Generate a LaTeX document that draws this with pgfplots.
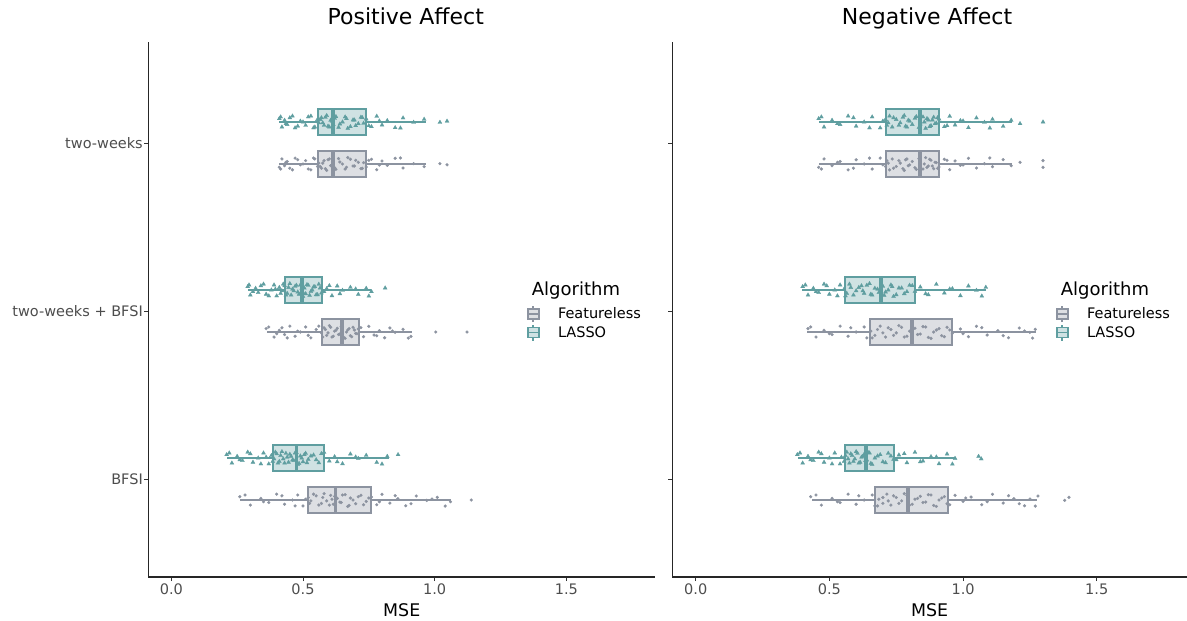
\documentclass[border=0pt]{standalone}
\usepackage{fontspec}
\setmainfont{DejaVu Sans}
\usepackage{pgfplots}
\pgfplotsset{compat=1.18}
\usepgfplotslibrary{statistics}
\definecolor{lassoline}{RGB}{95,158,160}
\definecolor{lassofill}{RGB}{207,226,227}
\definecolor{featline}{RGB}{140,147,160}
\definecolor{featfill}{RGB}{221,223,227}
\definecolor{ticklab}{RGB}{77,77,77}

\pgfplotsset{
  panel/.style={
    scale only axis, height=535bp,
    xmin=-0.0875, xmax=1.8375, ymin=0.417, ymax=3.601,
    enlargelimits=false,
    axis x line*=bottom, axis y line*=left,
    axis line style={line width=1.1bp, black!85, -},
    xtick={0,0.5,1,1.5}, ytick={1,2,3},
    tick align=outside, major tick length=4bp,
    tick style={line width=0.9bp, black!80},
    /pgf/number format/assume math mode=true,
    tick label style={font=\fontsize{14.5bp}{17bp}\selectfont, text=ticklab},
    xticklabel style={anchor=north, inner sep=0pt, yshift=-3bp,
      /pgf/number format/.cd, fixed, fixed zerofill, precision=1},
    yticklabel style={anchor=east, inner sep=0pt, xshift=-1.3bp},
    xlabel={MSE},
    xlabel style={at={(axis description cs:0.5,0)}, anchor=base, yshift=-39.7bp,
      font=\fontsize{17.4bp}{20bp}\selectfont},
    title style={at={(0.5,1)}, anchor=base, yshift=12bp,
      font=\fontsize{22bp}{26bp}\selectfont},
    boxplot/every median/.style={line width=3.6bp},
    legend style={draw=none, fill=none, inner sep=0pt, nodes={inner sep=0pt},
      font=\fontsize{14.5bp}{17bp}\selectfont, cells={anchor=west},
      anchor=north west, row sep=0pt},
    legend cell align=left,
  },
  lbox/.style={draw=lassoline, fill=lassofill, line width=2bp, solid},
  fbox/.style={draw=featline, fill=featfill, line width=2bp, solid},
  lpts/.style={only marks, mark=triangle*, mark size=2.3bp, lassoline,
    mark options={line width=0.3bp, draw=lassoline, fill=lassoline}},
  fpts/.style={only marks, mark=*, mark size=1.45bp, featline,
    mark options={line width=0.3bp, draw=featline, fill=featline}},
  featicon/.style={legend image code/.code={
    \draw[draw=featline, line width=1.6bp] (5.5bp,-8bp)--(5.5bp,8bp);
    \draw[draw=featline, fill=featfill, line width=1.6bp] (0bp,-5bp) rectangle (11bp,5bp);
    \draw[draw=featline, line width=1.6bp] (0bp,0bp)--(11bp,0bp);
    \path[draw=none, fill=none] (0bp,-9.2bp) rectangle (30.3bp,9.2bp);}},
  lassoicon/.style={legend image code/.code={
    \draw[draw=lassoline, line width=1.6bp] (5.5bp,-8bp)--(5.5bp,8bp);
    \draw[draw=lassoline, fill=lassofill, line width=1.6bp] (0bp,-5bp) rectangle (11bp,5bp);
    \draw[draw=lassoline, line width=1.6bp] (0bp,0bp)--(11bp,0bp);
    \path[draw=none, fill=none] (0bp,-9.2bp) rectangle (30.3bp,9.2bp);}},
}

\begin{document}
\begin{tikzpicture}
\useasboundingbox (0,0) rectangle (1187bp,621bp);

% ---------------- Positive Affect ----------------
\begin{axis}[panel, at={(148.3bp,44bp)}, anchor=south west, width=506.9bp,
  title={Positive Affect}, title style={xshift=4bp},
  yticklabels={BFSI, two-weeks + BFSI, two-weeks},
  legend style={at={(axis description cs:0.7465,0.5088)}}]
\addlegendimage{featicon}\addlegendentry{Featureless}
\addlegendimage{lassoicon}\addlegendentry{LASSO}

% two-weeks
\addplot[lbox, boxplot prepared={lower whisker=0.409, lower quartile=0.557, median=0.614,
  upper quartile=0.739, upper whisker=0.967, draw position=3.125, box extend=0.155, whisker extend=0}] coordinates {};
\addplot[fbox, boxplot prepared={lower whisker=0.409, lower quartile=0.557, median=0.614,
  upper quartile=0.739, upper whisker=0.967, draw position=2.875, box extend=0.155, whisker extend=0}] coordinates {};
% two-weeks + BFSI
\addplot[lbox, boxplot prepared={lower whisker=0.291, lower quartile=0.431, median=0.496,
  upper quartile=0.572, upper whisker=0.759, draw position=2.125, box extend=0.155, whisker extend=0}] coordinates {};
\addplot[fbox, boxplot prepared={lower whisker=0.362, lower quartile=0.571, median=0.648,
  upper quartile=0.713, upper whisker=0.913, draw position=1.875, box extend=0.155, whisker extend=0}] coordinates {};
% BFSI
\addplot[lbox, boxplot prepared={lower whisker=0.213, lower quartile=0.387, median=0.475,
  upper quartile=0.580, upper whisker=0.827, draw position=1.125, box extend=0.155, whisker extend=0}] coordinates {};
\addplot[fbox, boxplot prepared={lower whisker=0.260, lower quartile=0.520, median=0.624,
  upper quartile=0.760, upper whisker=1.061, draw position=0.875, box extend=0.155, whisker extend=0}] coordinates {};

% jittered points: two-weeks
\addplot[lpts] table[row sep=\\, x=x, y expr=3.125+\thisrow{j}] {
x j\\ 0.41 0.02\\ 0.42 -0.03\\ 0.43 0.01\\ 0.44 -0.015\\ 0.46 0.035\\ 0.48 -0.025\\
0.50 0.0\\ 0.52 0.03\\ 0.54 -0.035\\ 0.555 0.015\\ 0.56 -0.005\\ 0.57 0.025\\ 0.58 -0.02\\
0.59 0.038\\ 0.60 -0.03\\ 0.61 0.005\\ 0.62 0.022\\ 0.64 -0.012\\ 0.66 0.03\\ 0.67 -0.038\\
0.69 0.012\\ 0.70 -0.022\\ 0.72 0.028\\ 0.73 -0.008\\ 0.74 0.018\\ 0.76 -0.028\\ 0.78 0.034\\
0.80 -0.018\\ 0.82 0.008\\ 0.85 -0.034\\ 0.88 0.024\\ 0.92 -0.002\\ 0.96 0.016\\ 1.02 -0.002\\
1.047 0.005\\
0.415 0.03\\ 0.435 -0.01\\ 0.45 0.025\\ 0.47 -0.035\\ 0.49 0.005\\ 0.51 -0.02\\ 0.53 0.035\\
0.545 -0.03\\ 0.565 0.015\\ 0.575 -0.005\\ 0.585 0.028\\ 0.595 -0.025\\ 0.605 0.01\\ 0.615 -0.015\\
0.625 0.032\\ 0.635 -0.032\\ 0.65 0.0\\ 0.665 0.02\\ 0.68 -0.028\\ 0.695 0.012\\ 0.71 -0.01\\
0.725 0.026\\ 0.75 -0.022\\ 0.79 0.006\\ 0.87 -0.036\\
};
\addplot[fpts] table[row sep=\\, x=x, y expr=2.875+\thisrow{j}] {
x j\\ 0.41 -0.02\\ 0.42 0.03\\ 0.43 -0.01\\ 0.44 0.015\\ 0.46 -0.035\\ 0.48 0.025\\
0.50 0.0\\ 0.52 -0.03\\ 0.54 0.035\\ 0.555 -0.015\\ 0.56 0.005\\ 0.57 -0.025\\ 0.58 0.02\\
0.59 -0.038\\ 0.60 0.03\\ 0.61 -0.005\\ 0.62 -0.022\\ 0.64 0.012\\ 0.66 -0.03\\ 0.67 0.038\\
0.69 -0.012\\ 0.70 0.022\\ 0.72 -0.028\\ 0.73 0.008\\ 0.74 -0.018\\ 0.76 0.028\\ 0.78 -0.034\\
0.80 0.018\\ 0.82 -0.008\\ 0.85 0.034\\ 0.88 -0.024\\ 0.92 0.002\\ 0.96 -0.016\\ 1.02 0.002\\
1.047 -0.005\\
0.415 -0.03\\ 0.435 0.01\\ 0.45 -0.025\\ 0.47 0.035\\ 0.49 -0.005\\ 0.51 0.02\\ 0.53 -0.035\\
0.545 0.03\\ 0.565 -0.015\\ 0.575 0.005\\ 0.585 -0.028\\ 0.595 0.025\\ 0.605 -0.01\\ 0.615 0.015\\
0.625 -0.032\\ 0.635 0.032\\ 0.65 0.0\\ 0.665 -0.02\\ 0.68 0.028\\ 0.695 -0.012\\ 0.71 0.01\\
0.725 -0.026\\ 0.75 0.022\\ 0.79 -0.006\\ 0.87 0.036\\
};
% two-weeks + BFSI
\addplot[lpts] table[row sep=\\, x=x, y expr=2.125+\thisrow{j}] {
x j\\ 0.29 0.02\\ 0.30 -0.03\\ 0.32 0.01\\ 0.33 -0.015\\ 0.35 0.035\\ 0.36 -0.025\\ 0.38 0.0\\
0.39 0.03\\ 0.40 -0.035\\ 0.41 0.015\\ 0.42 -0.005\\ 0.43 0.025\\ 0.44 -0.02\\ 0.45 0.038\\
0.455 -0.03\\ 0.46 0.005\\ 0.47 0.022\\ 0.48 -0.012\\ 0.49 0.03\\ 0.50 -0.038\\ 0.505 0.012\\
0.51 -0.022\\ 0.52 0.028\\ 0.53 -0.008\\ 0.54 0.018\\ 0.55 -0.028\\ 0.56 0.034\\ 0.57 -0.018\\
0.59 0.008\\ 0.61 -0.034\\ 0.63 0.024\\ 0.65 -0.002\\ 0.68 0.016\\ 0.71 -0.026\\ 0.74 0.01\\
0.76 -0.01\\ 0.812 0.012\\
0.295 0.03\\ 0.31 -0.01\\ 0.34 0.025\\ 0.37 -0.035\\ 0.395 0.005\\ 0.415 -0.02\\ 0.425 0.035\\
0.435 -0.03\\ 0.445 0.015\\ 0.465 -0.005\\ 0.475 0.028\\ 0.485 -0.025\\ 0.495 0.01\\ 0.50 -0.015\\
0.515 0.032\\ 0.525 -0.032\\ 0.535 0.0\\ 0.545 0.02\\ 0.555 -0.028\\ 0.565 0.012\\ 0.58 -0.01\\
0.60 0.026\\ 0.64 -0.022\\ 0.70 0.006\\ 0.75 -0.036\\
};
\addplot[fpts] table[row sep=\\, x=x, y expr=1.875+\thisrow{j}] {
x j\\ 0.36 0.02\\ 0.39 -0.03\\ 0.41 0.01\\ 0.43 -0.015\\ 0.45 0.035\\ 0.47 -0.025\\ 0.49 0.0\\
0.51 0.03\\ 0.53 -0.035\\ 0.55 0.015\\ 0.57 -0.005\\ 0.58 0.025\\ 0.59 -0.02\\ 0.60 0.038\\
0.61 -0.03\\ 0.62 0.005\\ 0.63 0.022\\ 0.64 -0.012\\ 0.65 0.03\\ 0.66 -0.038\\ 0.67 0.012\\
0.68 -0.022\\ 0.69 0.028\\ 0.70 -0.008\\ 0.71 0.018\\ 0.73 -0.028\\ 0.75 0.034\\ 0.77 -0.018\\
0.79 0.008\\ 0.81 -0.034\\ 0.83 0.024\\ 0.85 -0.002\\ 0.88 0.016\\ 0.91 -0.026\\ 1.004 0.0\\
1.123 0.0\\
0.37 0.03\\ 0.40 -0.01\\ 0.42 0.025\\ 0.44 -0.035\\ 0.48 0.005\\ 0.52 -0.02\\ 0.56 0.035\\
0.575 -0.03\\ 0.585 0.015\\ 0.595 -0.005\\ 0.605 0.028\\ 0.615 -0.025\\ 0.625 0.01\\ 0.635 -0.015\\
0.645 0.032\\ 0.655 -0.032\\ 0.665 0.0\\ 0.675 0.02\\ 0.685 -0.028\\ 0.695 0.012\\ 0.705 -0.01\\
0.72 0.026\\ 0.78 -0.022\\ 0.84 0.006\\ 0.90 -0.036\\
};
% BFSI
\addplot[lpts] table[row sep=\\, x=x, y expr=1.125+\thisrow{j}] {
x j\\ 0.21 0.02\\ 0.23 -0.03\\ 0.25 0.01\\ 0.27 -0.015\\ 0.29 0.035\\ 0.31 -0.025\\ 0.33 0.0\\
0.35 0.03\\ 0.37 -0.035\\ 0.38 0.015\\ 0.39 -0.005\\ 0.40 0.025\\ 0.41 -0.02\\ 0.42 0.038\\
0.43 -0.03\\ 0.44 0.005\\ 0.45 0.022\\ 0.46 -0.012\\ 0.47 0.03\\ 0.48 -0.038\\ 0.49 0.012\\
0.50 -0.022\\ 0.51 0.028\\ 0.52 -0.008\\ 0.54 0.018\\ 0.56 -0.028\\ 0.58 0.034\\ 0.60 -0.018\\
0.62 0.008\\ 0.65 -0.034\\ 0.68 0.024\\ 0.71 -0.002\\ 0.74 0.016\\ 0.78 -0.026\\ 0.82 0.01\\
0.861 0.02\\
0.22 0.03\\ 0.26 -0.01\\ 0.30 0.025\\ 0.34 -0.035\\ 0.36 0.005\\ 0.385 -0.02\\ 0.395 0.035\\
0.405 -0.03\\ 0.415 0.015\\ 0.425 -0.005\\ 0.435 0.028\\ 0.445 -0.025\\ 0.455 0.01\\ 0.465 -0.015\\
0.475 0.032\\ 0.485 -0.032\\ 0.495 0.0\\ 0.505 0.02\\ 0.515 -0.028\\ 0.53 0.012\\ 0.55 -0.01\\
0.57 0.026\\ 0.63 -0.022\\ 0.70 0.006\\ 0.80 -0.036\\
};
\addplot[fpts] table[row sep=\\, x=x, y expr=0.875+\thisrow{j}] {
x j\\ 0.26 0.02\\ 0.30 -0.03\\ 0.34 0.01\\ 0.37 -0.015\\ 0.40 0.035\\ 0.43 -0.025\\ 0.46 0.0\\
0.48 0.03\\ 0.50 -0.035\\ 0.52 0.015\\ 0.53 -0.005\\ 0.55 0.025\\ 0.57 -0.02\\ 0.58 0.038\\
0.60 -0.03\\ 0.61 0.005\\ 0.62 0.022\\ 0.64 -0.012\\ 0.65 0.03\\ 0.67 -0.038\\ 0.68 0.012\\
0.70 -0.022\\ 0.72 0.028\\ 0.74 -0.008\\ 0.76 0.018\\ 0.78 -0.028\\ 0.80 0.034\\ 0.83 -0.018\\
0.86 0.008\\ 0.89 -0.034\\ 0.93 0.024\\ 0.97 -0.002\\ 1.01 0.016\\ 1.06 -0.01\\ 1.139 0.0\\
0.28 0.03\\ 0.35 -0.01\\ 0.42 0.025\\ 0.47 -0.035\\ 0.51 0.005\\ 0.525 -0.02\\ 0.54 0.035\\
0.56 -0.03\\ 0.575 0.015\\ 0.59 -0.005\\ 0.605 0.028\\ 0.615 -0.025\\ 0.63 0.01\\ 0.645 -0.015\\
0.66 0.032\\ 0.675 -0.032\\ 0.69 0.0\\ 0.71 0.02\\ 0.73 -0.028\\ 0.75 0.012\\ 0.79 -0.01\\
0.85 0.026\\ 0.91 -0.022\\ 0.99 0.006\\ 1.04 -0.036\\
};
\node[anchor=base west, inner sep=0pt, font=\fontsize{18bp}{21bp}\selectfont]
  at (axis description cs:0.7564,0.527) {Algorithm};
\end{axis}

% ---------------- Negative Affect ----------------
\begin{axis}[panel, at={(672.3bp,44bp)}, anchor=south west, width=514.7bp,
  title={Negative Affect}, title style={xshift=-2.6bp},
  yticklabels={,,},
  legend style={at={(axis description cs:0.745,0.5088)}}]
\addlegendimage{featicon}\addlegendentry{Featureless}
\addlegendimage{lassoicon}\addlegendentry{LASSO}

% two-weeks
\addplot[lbox, boxplot prepared={lower whisker=0.461, lower quartile=0.713, median=0.838,
  upper quartile=0.909, upper whisker=1.184, draw position=3.125, box extend=0.155, whisker extend=0}] coordinates {};
\addplot[fbox, boxplot prepared={lower whisker=0.461, lower quartile=0.713, median=0.838,
  upper quartile=0.909, upper whisker=1.184, draw position=2.875, box extend=0.155, whisker extend=0}] coordinates {};
% two-weeks + BFSI
\addplot[lbox, boxplot prepared={lower whisker=0.399, lower quartile=0.557, median=0.692,
  upper quartile=0.819, upper whisker=1.085, draw position=2.125, box extend=0.155, whisker extend=0}] coordinates {};
\addplot[fbox, boxplot prepared={lower whisker=0.415, lower quartile=0.651, median=0.808,
  upper quartile=0.960, upper whisker=1.271, draw position=1.875, box extend=0.155, whisker extend=0}] coordinates {};
% BFSI
\addplot[lbox, boxplot prepared={lower whisker=0.383, lower quartile=0.557, median=0.636,
  upper quartile=0.742, upper whisker=0.975, draw position=1.125, box extend=0.155, whisker extend=0}] coordinates {};
\addplot[fbox, boxplot prepared={lower whisker=0.434, lower quartile=0.669, median=0.794,
  upper quartile=0.944, upper whisker=1.278, draw position=0.875, box extend=0.155, whisker extend=0}] coordinates {};

% two-weeks
\addplot[lpts] table[row sep=\\, x=x, y expr=3.125+\thisrow{j}] {
x j\\ 0.46 0.02\\ 0.48 -0.03\\ 0.51 0.01\\ 0.54 -0.015\\ 0.57 0.035\\ 0.60 -0.025\\ 0.63 0.0\\
0.66 0.03\\ 0.69 -0.035\\ 0.71 0.015\\ 0.72 -0.005\\ 0.74 0.025\\ 0.76 -0.02\\ 0.78 0.038\\
0.79 -0.03\\ 0.80 0.005\\ 0.82 0.022\\ 0.84 -0.012\\ 0.85 0.03\\ 0.86 -0.038\\ 0.87 0.012\\
0.88 -0.022\\ 0.89 0.028\\ 0.90 -0.008\\ 0.91 0.018\\ 0.93 -0.028\\ 0.95 0.034\\ 0.97 -0.018\\
0.99 0.008\\ 1.02 -0.034\\ 1.05 0.024\\ 1.08 -0.002\\ 1.11 0.016\\ 1.15 -0.026\\ 1.18 0.01\\
1.213 -0.01\\ 1.299 0.0\\
0.47 0.03\\ 0.53 -0.01\\ 0.59 0.025\\ 0.65 -0.035\\ 0.70 0.005\\ 0.715 -0.02\\ 0.725 0.035\\
0.735 -0.03\\ 0.75 0.015\\ 0.765 -0.005\\ 0.775 0.028\\ 0.785 -0.025\\ 0.795 0.01\\ 0.81 -0.015\\
0.825 0.032\\ 0.835 -0.032\\ 0.855 0.0\\ 0.865 0.02\\ 0.875 -0.028\\ 0.885 0.012\\ 0.895 -0.01\\
0.905 0.026\\ 0.94 -0.022\\ 1.00 0.006\\ 1.10 -0.036\\
};
\addplot[fpts] table[row sep=\\, x=x, y expr=2.875+\thisrow{j}] {
x j\\ 0.46 -0.02\\ 0.48 0.03\\ 0.51 -0.01\\ 0.54 0.015\\ 0.57 -0.035\\ 0.60 0.025\\ 0.63 0.0\\
0.66 -0.03\\ 0.69 0.035\\ 0.71 -0.015\\ 0.72 0.005\\ 0.74 -0.025\\ 0.76 0.02\\ 0.78 -0.038\\
0.79 0.03\\ 0.80 -0.005\\ 0.82 -0.022\\ 0.84 0.012\\ 0.85 -0.03\\ 0.86 0.038\\ 0.87 -0.012\\
0.88 0.022\\ 0.89 -0.028\\ 0.90 0.008\\ 0.91 -0.018\\ 0.93 0.028\\ 0.95 -0.034\\ 0.97 0.018\\
0.99 -0.008\\ 1.02 0.034\\ 1.05 -0.024\\ 1.08 0.002\\ 1.11 -0.016\\ 1.15 0.026\\ 1.18 -0.01\\
1.213 0.01\\ 1.299 -0.02\\ 1.299 0.02\\
0.47 -0.03\\ 0.53 0.01\\ 0.59 -0.025\\ 0.65 0.035\\ 0.70 -0.005\\ 0.715 0.02\\ 0.725 -0.035\\
0.735 0.03\\ 0.75 -0.015\\ 0.765 0.005\\ 0.775 -0.028\\ 0.785 0.025\\ 0.795 -0.01\\ 0.81 0.015\\
0.825 -0.032\\ 0.835 0.032\\ 0.855 0.0\\ 0.865 -0.02\\ 0.875 0.028\\ 0.885 -0.012\\ 0.895 0.01\\
0.905 -0.026\\ 0.94 0.022\\ 1.00 -0.006\\ 1.10 0.036\\
};
% two-weeks + BFSI
\addplot[lpts] table[row sep=\\, x=x, y expr=2.125+\thisrow{j}] {
x j\\ 0.40 0.02\\ 0.42 -0.03\\ 0.44 0.01\\ 0.46 -0.015\\ 0.48 0.035\\ 0.50 -0.025\\ 0.52 0.0\\
0.54 0.03\\ 0.56 -0.035\\ 0.58 0.015\\ 0.60 -0.005\\ 0.62 0.025\\ 0.63 -0.02\\ 0.65 0.038\\
0.66 -0.03\\ 0.68 0.005\\ 0.70 0.022\\ 0.71 -0.012\\ 0.73 0.03\\ 0.74 -0.038\\ 0.76 0.012\\
0.78 -0.022\\ 0.80 0.028\\ 0.82 -0.008\\ 0.84 0.018\\ 0.87 -0.028\\ 0.90 0.034\\ 0.93 -0.018\\
0.96 0.008\\ 0.99 -0.034\\ 1.02 0.024\\ 1.05 -0.002\\ 1.085 0.016\\
0.41 0.03\\ 0.45 -0.01\\ 0.49 0.025\\ 0.53 -0.035\\ 0.555 0.005\\ 0.565 -0.02\\ 0.575 0.035\\
0.59 -0.03\\ 0.61 0.015\\ 0.625 -0.005\\ 0.64 0.028\\ 0.655 -0.025\\ 0.67 0.01\\ 0.685 -0.015\\
0.695 0.032\\ 0.705 -0.032\\ 0.72 0.0\\ 0.735 0.02\\ 0.75 -0.028\\ 0.77 0.012\\ 0.79 -0.01\\
0.81 0.026\\ 0.86 -0.022\\ 0.95 0.006\\ 1.07 -0.036\\
};
\addplot[fpts] table[row sep=\\, x=x, y expr=1.875+\thisrow{j}] {
x j\\ 0.42 0.02\\ 0.45 -0.03\\ 0.48 0.01\\ 0.51 -0.015\\ 0.54 0.035\\ 0.57 -0.025\\ 0.60 0.0\\
0.63 0.03\\ 0.66 -0.035\\ 0.68 0.015\\ 0.70 -0.005\\ 0.72 0.025\\ 0.74 -0.02\\ 0.76 0.038\\
0.78 -0.03\\ 0.80 0.005\\ 0.82 0.022\\ 0.84 -0.012\\ 0.86 0.03\\ 0.88 -0.038\\ 0.90 0.012\\
0.92 -0.022\\ 0.94 0.028\\ 0.96 -0.008\\ 0.99 0.018\\ 1.02 -0.028\\ 1.05 0.034\\ 1.09 -0.018\\
1.13 0.008\\ 1.17 -0.034\\ 1.21 0.024\\ 1.25 -0.002\\ 1.27 0.016\\
0.43 0.03\\ 0.50 -0.01\\ 0.58 0.025\\ 0.64 -0.035\\ 0.655 0.005\\ 0.67 -0.02\\ 0.69 0.035\\
0.71 -0.03\\ 0.73 0.015\\ 0.75 -0.005\\ 0.77 0.028\\ 0.79 -0.025\\ 0.81 0.01\\ 0.83 -0.015\\
0.85 0.032\\ 0.87 -0.032\\ 0.89 0.0\\ 0.91 0.02\\ 0.93 -0.028\\ 0.95 0.012\\ 1.00 -0.01\\
1.07 0.026\\ 1.15 -0.022\\ 1.23 0.006\\ 1.26 -0.036\\
};
% BFSI
\addplot[lpts] table[row sep=\\, x=x, y expr=1.125+\thisrow{j}] {
x j\\ 0.38 0.02\\ 0.40 -0.03\\ 0.42 0.01\\ 0.44 -0.015\\ 0.46 0.035\\ 0.48 -0.025\\ 0.50 0.0\\
0.52 0.03\\ 0.54 -0.035\\ 0.56 0.015\\ 0.57 -0.005\\ 0.58 0.025\\ 0.59 -0.02\\ 0.60 0.038\\
0.61 -0.03\\ 0.62 0.005\\ 0.63 0.022\\ 0.64 -0.012\\ 0.65 0.03\\ 0.66 -0.038\\ 0.68 0.012\\
0.70 -0.022\\ 0.72 0.028\\ 0.74 -0.008\\ 0.76 0.018\\ 0.79 -0.028\\ 0.82 0.034\\ 0.85 -0.018\\
0.88 0.008\\ 0.91 -0.034\\ 0.94 0.024\\ 0.97 -0.002\\ 1.058 0.01\\ 1.068 -0.005\\
0.39 0.03\\ 0.43 -0.01\\ 0.47 0.025\\ 0.51 -0.035\\ 0.545 0.005\\ 0.555 -0.02\\ 0.565 0.035\\
0.575 -0.03\\ 0.585 0.015\\ 0.595 -0.005\\ 0.605 0.028\\ 0.615 -0.025\\ 0.625 0.01\\ 0.635 -0.015\\
0.645 0.032\\ 0.655 -0.032\\ 0.67 0.0\\ 0.69 0.02\\ 0.71 -0.028\\ 0.73 0.012\\ 0.75 -0.01\\
0.78 0.026\\ 0.84 -0.022\\ 0.90 0.006\\ 0.96 -0.036\\
};
\addplot[fpts] table[row sep=\\, x=x, y expr=0.875+\thisrow{j}] {
x j\\ 0.43 0.02\\ 0.47 -0.03\\ 0.51 0.01\\ 0.54 -0.015\\ 0.57 0.035\\ 0.60 -0.025\\ 0.63 0.0\\
0.66 0.03\\ 0.68 -0.035\\ 0.70 0.015\\ 0.72 -0.005\\ 0.74 0.025\\ 0.76 -0.02\\ 0.78 0.038\\
0.80 -0.03\\ 0.82 0.005\\ 0.84 0.022\\ 0.86 -0.012\\ 0.88 0.03\\ 0.90 -0.038\\ 0.92 0.012\\
0.94 -0.022\\ 0.97 0.028\\ 1.00 -0.008\\ 1.03 0.018\\ 1.07 -0.028\\ 1.11 0.034\\ 1.15 -0.018\\
1.19 0.008\\ 1.23 -0.034\\ 1.28 0.024\\ 1.38 -0.002\\ 1.396 0.016\\
0.45 0.03\\ 0.53 -0.01\\ 0.61 0.025\\ 0.67 -0.035\\ 0.685 0.005\\ 0.70 -0.02\\ 0.715 0.035\\
0.73 -0.03\\ 0.75 0.015\\ 0.77 -0.005\\ 0.79 0.028\\ 0.81 -0.025\\ 0.83 0.01\\ 0.85 -0.015\\
0.87 0.032\\ 0.89 -0.032\\ 0.91 0.0\\ 0.93 0.02\\ 0.95 -0.028\\ 1.01 0.012\\ 1.09 -0.01\\
1.17 0.026\\ 1.21 -0.022\\ 1.25 0.006\\ 1.27 -0.036\\
};
\node[anchor=base west, inner sep=0pt, font=\fontsize{18bp}{21bp}\selectfont]
  at (axis description cs:0.7546,0.527) {Algorithm};
\end{axis}
\end{tikzpicture}
\end{document}
